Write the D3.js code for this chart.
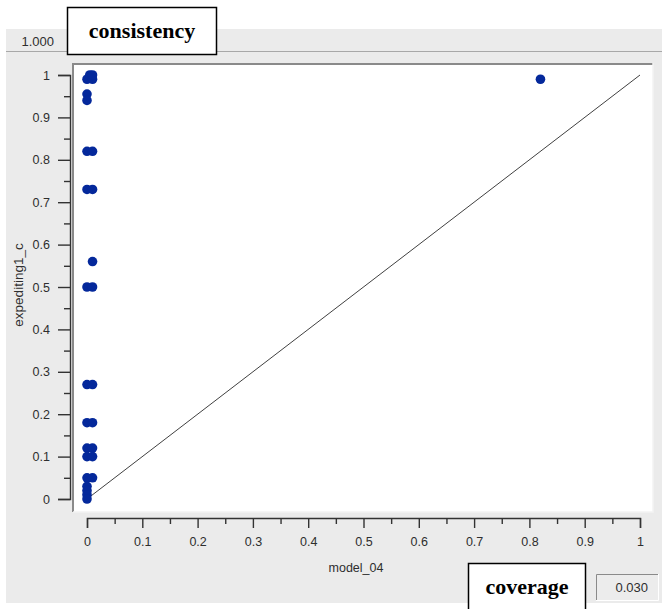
<!DOCTYPE html>
<html>
<head>
<meta charset="utf-8">
<script src="https://cdn.jsdelivr.net/npm/d3@7"></script>
<style>
  html, body { margin: 0; padding: 0; background: #ffffff; }
  svg { display: block; }
</style>
</head>
<body>
<svg id="chart" width="662" height="609"></svg>
<script>
// ---- data ----
const xValues = [0, 0.005, 0.01, 0.01, 0, 0, 0, 0.01, 0, 0.01, 0.01, 0, 0.01, 0, 0.01, 0, 0.01, 0, 0.01, 0, 0.01, 0, 0.01, 0, 0, 0, 0, 0.82];
const yValues = [0.99, 1.0, 0.99, 1.0, 0.955, 0.94, 0.82, 0.82, 0.73, 0.73, 0.56, 0.5, 0.5, 0.27, 0.27, 0.18, 0.18, 0.12, 0.12, 0.1, 0.1, 0.05, 0.05, 0.03, 0.02, 0.01, 0.0, 0.99];
const majorTicks = [0, 0.1, 0.2, 0.3, 0.4, 0.5, 0.6, 0.7, 0.8, 0.9, 1];
const minorTicks = [0.05, 0.15, 0.25, 0.35, 0.45, 0.55, 0.65, 0.75, 0.85, 0.95];
const tickLabels = ["0", "0.1", "0.2", "0.3", "0.4", "0.5", "0.6", "0.7", "0.8", "0.9", "1"];
const xTitle = "model_04";
const yTitle = "expediting1_c";
const consistencyValue = "1.000";
const coverageValue = "0.030";

const svg = d3.select("#chart");
const font = "'Liberation Sans', Arial, sans-serif";
const serif = "'Liberation Serif', 'Times New Roman', serif";
const txt = "#2e2e2e";

// panel background
svg.append("rect").attr("x", 6).attr("y", 29).attr("width", 656).attr("height", 574).attr("fill", "#ebebeb");
svg.append("line").attr("x1", 6).attr("x2", 662).attr("y1", 51.5).attr("y2", 51.5).attr("stroke", "#a8a8a8").attr("stroke-width", 1);
svg.append("text").attr("x", 54).attr("y", 46).attr("text-anchor", "end")
  .attr("font-family", font).attr("font-size", 13).attr("fill", txt).text(consistencyValue);

// plot area
svg.append("rect").attr("x", 73).attr("y", 63).attr("width", 580).attr("height", 449).attr("fill", "#ffffff");
svg.append("path").attr("d", "M73,512V64H653").attr("fill", "none").attr("stroke", "#8a8a8a").attr("stroke-width", 2);
svg.append("path").attr("d", "M653,63V512H73").attr("fill", "none").attr("stroke", "#f4f4f4").attr("stroke-width", 1.5);

const x = d3.scaleLinear().domain([0, 1]).range([87, 640]);
const y = d3.scaleLinear().domain([0, 1]).range([499, 75]);

// axes
function styleAxis(g) {
  g.selectAll("path, line").attr("stroke", "#333").attr("stroke-width", 1.4);
  g.selectAll("text").attr("font-family", font).attr("font-size", 12.5).attr("fill", txt);
}
const yAxis = d3.axisLeft(y).tickValues(majorTicks).tickSize(12).tickSizeOuter(12).tickPadding(8)
  .tickFormat((d, i) => tickLabels[i]);
svg.append("g").attr("transform", "translate(70,0)").call(yAxis).call(styleAxis);
svg.append("g").attr("transform", "translate(70,0)")
  .call(d3.axisLeft(y).tickValues(minorTicks).tickSize(6).tickFormat(""))
  .call(g => g.select(".domain").remove()).call(styleAxis);

const xAxis = d3.axisBottom(x).tickValues(majorTicks).tickSize(10).tickSizeOuter(10).tickPadding(9)
  .tickFormat((d, i) => tickLabels[i]);
svg.append("g").attr("transform", "translate(0,518)").call(xAxis).call(styleAxis);
svg.append("g").attr("transform", "translate(0,518)")
  .call(d3.axisBottom(x).tickValues(minorTicks).tickSize(6).tickFormat(""))
  .call(g => g.select(".domain").remove()).call(styleAxis);

// titles
svg.append("text").attr("x", 356).attr("y", 572).attr("text-anchor", "middle")
  .attr("font-family", font).attr("font-size", 12.5).attr("fill", txt).text(xTitle);
svg.append("text").attr("transform", "translate(23,285) rotate(-90)").attr("text-anchor", "middle")
  .attr("font-family", font).attr("font-size", 13.5).attr("fill", txt).text(yTitle);

// diagonal reference line
svg.append("line").attr("x1", x(0)).attr("y1", y(0)).attr("x2", x(1)).attr("y2", y(1))
  .attr("stroke", "#404040").attr("stroke-width", 1);

// points
const pts = xValues.map((v, i) => ({ x: v, y: yValues[i] }));
svg.append("g").selectAll("circle").data(pts).join("circle")
  .attr("cx", d => x(d.x)).attr("cy", d => y(d.y)).attr("r", 4.8)
  .attr("fill", "#04289b");

// consistency label box
svg.append("rect").attr("x", 67.5).attr("y", 7.5).attr("width", 149).attr("height", 47)
  .attr("fill", "#ffffff").attr("stroke", "#000").attr("stroke-width", 1.5);
svg.append("text").attr("x", 142).attr("y", 38).attr("text-anchor", "middle")
  .attr("font-family", serif).attr("font-weight", "bold").attr("font-size", 22).attr("fill", "#000").text("consistency");

// coverage label box
svg.append("rect").attr("x", 468.5).attr("y", 563.5).attr("width", 117).attr("height", 50)
  .attr("fill", "#ffffff").attr("stroke", "#000").attr("stroke-width", 1.5);
svg.append("text").attr("x", 527).attr("y", 594).attr("text-anchor", "middle")
  .attr("font-family", serif).attr("font-weight", "bold").attr("font-size", 22).attr("fill", "#000").text("coverage");

// coverage value field
svg.append("rect").attr("x", 596).attr("y", 574).attr("width", 62).attr("height", 26).attr("fill", "#ececec");
svg.append("path").attr("d", "M596.5,600V574.5H658").attr("fill", "none").attr("stroke", "#8a8a8a").attr("stroke-width", 1);
svg.append("path").attr("d", "M658.5,574V600.5H596").attr("fill", "none").attr("stroke", "#ffffff").attr("stroke-width", 1);
svg.append("text").attr("x", 648).attr("y", 592).attr("text-anchor", "end")
  .attr("font-family", font).attr("font-size", 13).attr("fill", txt).text(coverageValue);
</script>
</body>
</html>
